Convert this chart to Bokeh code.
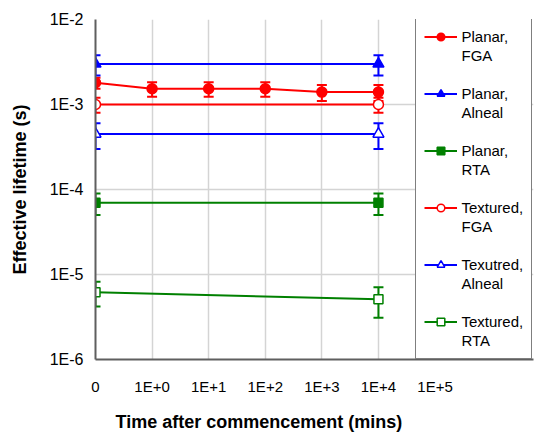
from bokeh.plotting import figure
from bokeh.models import (ColumnDataSource, Whisker, TeeHead, FixedTicker,
                          CustomJSTickFormatter, Legend, LegendItem, Range1d, Title)
from bokeh.embed import file_html
from bokeh.resources import INLINE

# ---- data ----
x_tick_labels = ["0", "1E+0", "1E+1", "1E+2", "1E+3", "1E+4", "1E+5"]
y_ticks = [1e-6, 1e-5, 1e-4, 1e-3, 1e-2]

planar_fga_x = [0, 1, 2, 3, 4, 5]
planar_fga_y = [1.8e-3, 1.53e-3, 1.53e-3, 1.53e-3, 1.4e-3, 1.4e-3]
planar_fga_err = [0.27e-3, 0.3e-3, 0.3e-3, 0.3e-3, 0.3e-3, 0.3e-3]

planar_alneal_x = [0, 5]
planar_alneal_y = [3.0e-3, 3.0e-3]
planar_alneal_err = [0.8e-3, 0.8e-3]

planar_rta_x = [0, 5]
planar_rta_y = [7.0e-5, 7.0e-5]
planar_rta_err = [2.0e-5, 2.0e-5]

textured_fga_x = [0, 5]
textured_fga_y = [1.0e-3, 1.0e-3]
textured_fga_err = [0.2e-3, 0.2e-3]

textured_alneal_x = [0, 5]
textured_alneal_y = [4.5e-4, 4.5e-4]
textured_alneal_err = [1.5e-4, 1.5e-4]

textured_rta_x = [0, 5]
textured_rta_y = [6.2e-6, 5.1e-6]
textured_rta_err = [2.0e-6, 2.0e-6]

legend_line1 = ["Planar,", "Planar,", "Planar,", "Textured,", "Texutred,", "Textured,"]
legend_line2 = ["FGA", "Alneal", "RTA", "FGA", "Alneal", "RTA"]

x_title = "Time after commencement (mins)"
y_title = "Effective lifetime (s)"

RED, BLUE, GREEN = "#ff0000", "#0000ff", "#008000"
FONT = "Liberation Sans"

# frame spans 95..533 px; ticks every ~56.6 px, legend covers right part
p = figure(width=535, height=444, y_axis_type="log",
           x_range=Range1d(0, 7.74), y_range=Range1d(1e-6, 1e-2),
           output_backend="svg", toolbar_location=None,
           min_border_left=95, min_border_right=2,
           min_border_top=19, min_border_bottom=85)
p.background_fill_color = "white"
p.border_fill_color = "white"
p.outline_line_color = None

series = [
    (planar_fga_x, planar_fga_y, planar_fga_err, RED, "circle", True, 10),
    (planar_alneal_x, planar_alneal_y, planar_alneal_err, BLUE, "triangle", True, 11),
    (planar_rta_x, planar_rta_y, planar_rta_err, GREEN, "square", True, 9),
    (textured_fga_x, textured_fga_y, textured_fga_err, RED, "circle", False, 10),
    (textured_alneal_x, textured_alneal_y, textured_alneal_err, BLUE, "triangle", False, 11),
    (textured_rta_x, textured_rta_y, textured_rta_err, GREEN, "square", False, 9),
]

# an empty, invisible renderer used for second label lines / gaps of the legend
blank = p.line(x=[], y=[], line_alpha=0)

items = []
for i, (xs, ys, errs, col, marker, filled, size) in enumerate(series):
    src = ColumnDataSource(dict(
        x=xs, y=ys,
        upper=[y + e for y, e in zip(ys, errs)],
        lower=[y - e for y, e in zip(ys, errs)],
    ))
    w = Whisker(source=src, base="x", upper="upper", lower="lower",
                dimension="height", line_color=col, line_width=2,
                upper_head=TeeHead(size=10, line_color=col, line_width=2),
                lower_head=TeeHead(size=10, line_color=col, line_width=2))
    p.add_layout(w)
    ln = p.line("x", "y", source=src, line_color=col, line_width=2)
    sc = p.scatter("x", "y", source=src, marker=marker, size=size,
                   line_color=col, line_width=1.5,
                   fill_color=col if filled else "white")
    items.append(LegendItem(label=legend_line1[i], renderers=[ln, sc]))
    items.append(LegendItem(label=legend_line2[i], renderers=[blank]))
    if i < len(series) - 1:
        items.append(LegendItem(label=" ", renderers=[blank]))

legend = Legend(items=items, location=(319.5, 0.5),
                border_line_color="black", border_line_width=1.5,
                background_fill_color="white", background_fill_alpha=1,
                padding=8, margin=0, spacing=0,
                glyph_width=33, glyph_height=19, label_height=19,
                label_standoff=5,
                label_text_font=FONT, label_text_font_size="15px",
                label_text_color="black")
p.add_layout(legend)

# axes
p.xaxis.ticker = FixedTicker(ticks=list(range(len(x_tick_labels))))
p.xaxis.major_label_overrides = {i: t for i, t in enumerate(x_tick_labels)}
p.yaxis.ticker = FixedTicker(ticks=y_ticks)
p.yaxis.formatter = CustomJSTickFormatter(code="return '1E' + Math.round(Math.log10(tick));")

for ax in (p.xaxis[0], p.yaxis[0]):
    ax.axis_line_color = "#5f5f5f"
    ax.axis_line_width = 2
    ax.major_tick_line_color = None
    ax.minor_tick_line_color = None
    ax.major_tick_out = 0
    ax.major_tick_in = 0
    ax.major_label_text_font = FONT
    ax.major_label_text_color = "black"
    ax.axis_label_text_font = FONT
    ax.axis_label_text_font_style = "bold"
    ax.axis_label_text_font_size = "18px"
    ax.axis_label_text_color = "black"

p.xaxis.major_label_text_font_size = "15px"
p.yaxis.major_label_text_font_size = "16px"
p.xaxis.major_label_standoff = 18
p.yaxis.major_label_standoff = 12
p.yaxis.axis_label = y_title
p.yaxis.axis_label_standoff = 17

# x title: centred under the visible plot area (left of the legend)
p.add_layout(Title(text=x_title, align="left", offset=20, standoff=25,
                   text_font=FONT, text_font_size="18px",
                   text_font_style="bold", text_color="black"), "below")

p.xgrid.ticker = FixedTicker(ticks=list(range(len(x_tick_labels))))
p.ygrid.ticker = FixedTicker(ticks=y_ticks)
for g in (p.xgrid[0], p.ygrid[0]):
    g.grid_line_color = "#d4d4d4"
    g.grid_line_width = 1.5
p.ygrid.minor_grid_line_color = None

open("out.html", "w").write(file_html(p, INLINE))
